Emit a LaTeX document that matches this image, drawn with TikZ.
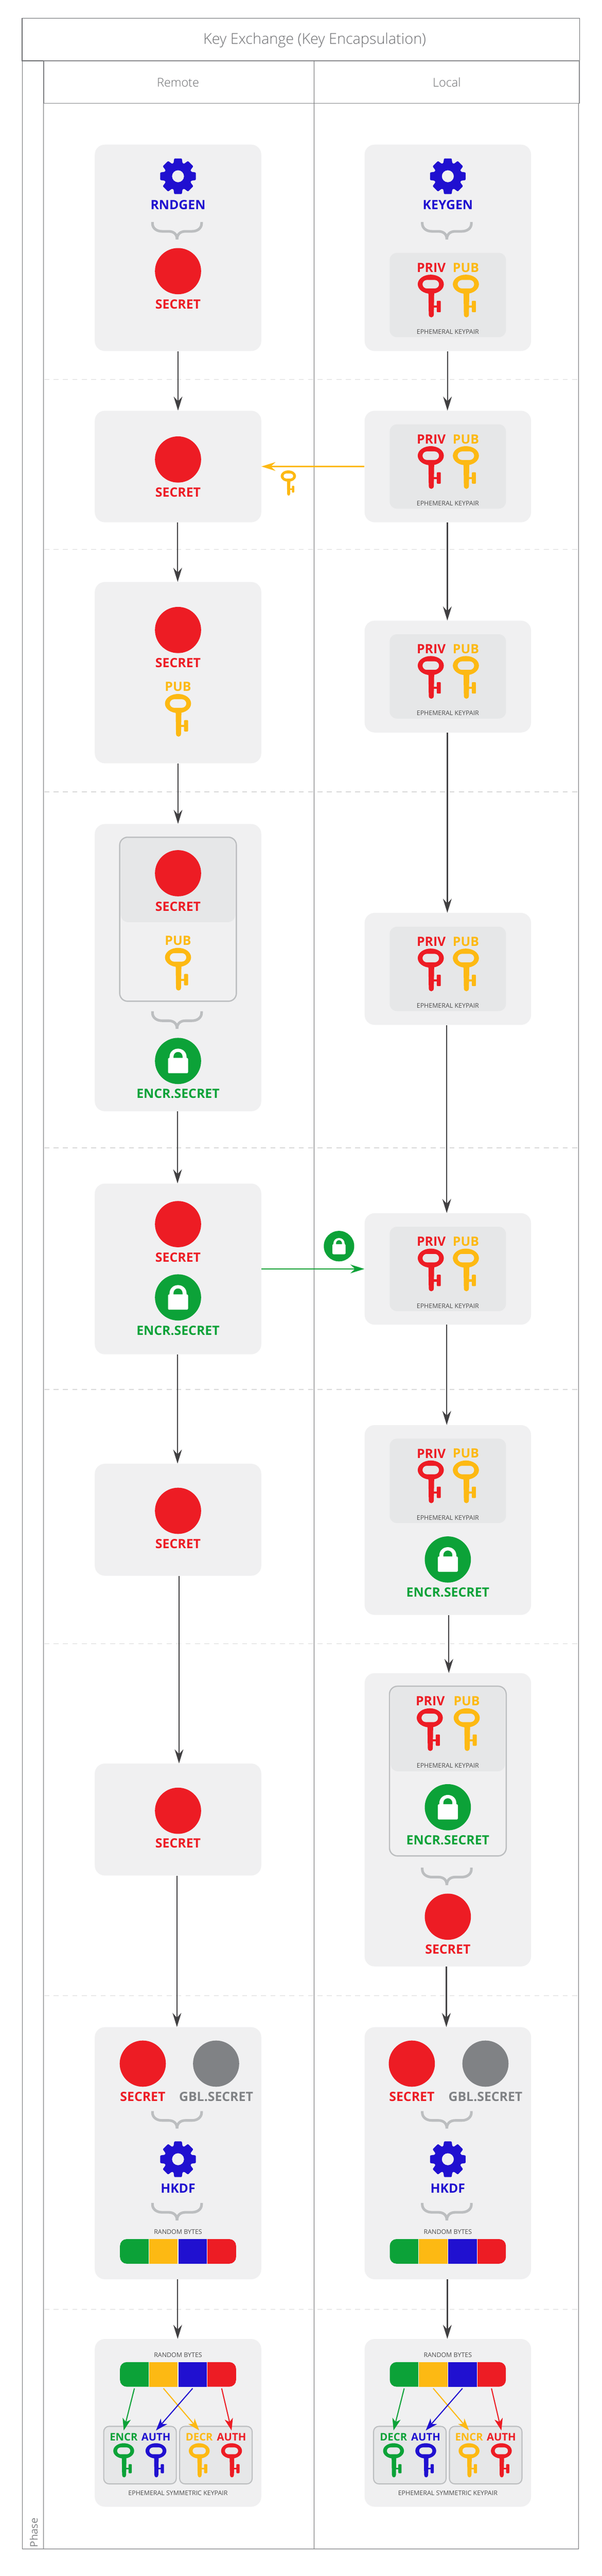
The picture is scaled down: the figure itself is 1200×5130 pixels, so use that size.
\documentclass[tikz,border=0pt]{standalone}
\usepackage{fontspec}
\setmainfont{Open Sans}
\newfontfamily\oslight{Open Sans}[UprightFont={* Light}]
\usetikzlibrary{arrows.meta}
\definecolor{kred}{HTML}{ED1C24}
\definecolor{kyel}{HTML}{FDB913}
\definecolor{kblu}{HTML}{2010D0}
\definecolor{kgrn}{HTML}{0CA238}
\definecolor{kgry}{HTML}{808285}
\definecolor{boxg}{HTML}{F0F0F1}
\definecolor{inng}{HTML}{E6E7E8}
\definecolor{brcg}{HTML}{BCBEC0}
\definecolor{lane}{HTML}{6D6E71}
\definecolor{dashg}{HTML}{D9D9D9}
\definecolor{flowk}{HTML}{414042}
\definecolor{capk}{HTML}{4D4D4D}
\tikzset{
  pbox/.style={rectangle,rounded corners=15pt,fill=boxg,inner sep=0,minimum width=249pt},
  gbox/.style={rectangle,rounded corners=11pt,fill=inng,inner sep=0,minimum width=174pt},
  obox/.style={rectangle,rounded corners=12pt,draw=brcg,line width=1.9pt,inner sep=0,minimum width=174.5pt},
  sbox/.style={rectangle,rounded corners=8pt,draw=brcg,fill=inng,line width=1.6pt,inner sep=0},
  lbl/.style={inner sep=0,font=\fontsize{19.1}{20}\selectfont\bfseries},
  slbl/.style={inner sep=0,font=\fontsize{15.6}{17}\selectfont\bfseries},
  capt/.style={inner sep=0,text=capk,font=\fontsize{9.55}{11}\selectfont},
  headt/.style={inner sep=0,text=lane,font=\fontsize{18}{20}\oslight},
  ttl/.style={inner sep=0,text=lane,font=\fontsize{22.15}{24}\oslight},
  dotc/.style={circle,inner sep=0,minimum size=69pt},
  seg/.style={rectangle,inner sep=0,minimum width=43.5pt,minimum height=36.75pt},
  flow/.style={draw=flowk,line width=1.7pt,-{Stealth[length=21pt,width=13pt,inset=7pt]}},
  xflow/.style={line width=2pt,-{Stealth[length=21pt,width=13pt,inset=7pt]}},
  sflow/.style={line width=1.6pt,-{Stealth[length=18pt,width=12.5pt,inset=5pt]}},
  laneline/.style={draw=lane,line width=0.8pt},
  phaseline/.style={draw=dashg,line width=1pt,dash pattern=on 7.5pt off 6.6pt},
  bracel/.style={draw=brcg,line width=3.9pt},
}
\newcommand{\bx}[4]{\pgfmathsetmacro\tmpc{(#3+#4)/2}\pgfmathsetmacro\tmph{(#4-#3)*0.75}%
  \node[pbox,minimum height=\tmph pt] (#1) at (#2,\tmpc) {};}
\newcommand{\drawKey}[4]{% x y scale colour
  \begin{scope}[shift={(#1,#2)},scale=#3]
    \fill[#4,even odd rule] (0,0) ellipse [x radius=26,y radius=19]
      (-8,-8.5) -- (8,-8.5) .. controls (12.7,-8.5) and (16.5,-4.7) .. (16.5,0) .. controls (16.5,4.7) and (12.7,8.5) .. (8,8.5) -- (-8,8.5) .. controls (-12.7,8.5) and (-16.5,4.7) .. (-16.5,0) .. controls (-16.5,-4.7) and (-12.7,-8.5) .. (-8,-8.5) -- cycle;
    \fill[#4] (-4.7,15) -- (-4,60) .. controls (-4,68) and (6,68) .. (6,60) -- (6.8,15) -- cycle;
    \fill[#4] (5,42.3) rectangle (13,46.7);
    \fill[#4,rounded corners=0.9pt] (12,33) rectangle (20,55.7);
  \end{scope}}
\newcommand{\drawGear}[2]{%
  \begin{scope}[shift={(#1,#2)}]
    \fill[kblu,even odd rule,rounded corners=1pt] ({-19}:27.5)
      \foreach \a in {0,45,90,135,180,225,270,315} { -- ({\a-19}:27.5) -- ({\a-12}:36.3) -- ({\a+12}:36.3) -- ({\a+19}:27.5) } -- cycle
      (0,0) circle [radius=12];
  \end{scope}}
\newcommand{\drawBrace}[2]{%
  \begin{scope}[shift={(#1,#2)}]
    \draw[bracel] (-49,0) -- (-49,3) .. controls (-49,13) and (-40,18.7) .. (-30,18.7) -- (-17,18.7) .. controls (-7,18.7) and (0,24) .. (0,34.7);
    \draw[bracel] (49,0) -- (49,3) .. controls (49,13) and (40,18.7) .. (30,18.7) -- (17,18.7) .. controls (7,18.7) and (0,24) .. (0,34.7);
  \end{scope}}
\newcommand{\drawLock}[4]{% name x y scale
  \pgfmathsetmacro\tmps{69*#4}%
  \node[circle,inner sep=0,fill=kgrn,minimum size=\tmps pt] (#1) at (#2,#3) {};
  \begin{scope}[shift={(#2,#3)},scale=#4]
    \fill[white,rounded corners=1.8pt] (-20,-6) rectangle (20,24.5);
    \fill[white] (-17,-4) -- (-17,-8) .. controls (-17,-18) and (-9,-24.5) .. (0,-24.5) .. controls (9,-24.5) and (17,-18) .. (17,-8) -- (17,-4) -- (9,-4) -- (9,-9) .. controls (9,-14) and (5,-18) .. (0,-18) .. controls (-5,-18) and (-9,-14) .. (-9,-9) -- (-9,-4) -- cycle;
  \end{scope}}
\newcommand{\secret}[4]{% name x ycircle ylabel
  \node[dotc,fill=kred] (#1c) at (#2,#3) {};
  \node[lbl,text=kred] (#1t) at (#2,#4) {SECRET};}
\newcommand{\encsec}[4]{%
  \drawLock{#1c}{#2}{#3}{1}
  \node[lbl,text=kgrn] (#1t) at (#2,#4) {ENCR.SECRET};}
\newcommand{\pubkey}[4]{% name x ylabel ykey
  \node[lbl,text=kyel] (#1t) at (#2,#3) {PUB};
  \drawKey{#2}{#4}{1}{kyel}}
\newcommand{\keypair}[3]{% name cx top
  \pgfmathsetmacro\tmpy{#3+84}\pgfmathsetmacro\tmpa{#3+29.5}\pgfmathsetmacro\tmpb{#3+62.5}\pgfmathsetmacro\tmpd{#3+157.5}%
  \pgfmathsetmacro\tmpl{#2-33}\pgfmathsetmacro\tmpr{#2+36}\pgfmathsetmacro\tmpk{#2-34}%
  \node[gbox,minimum height=126pt] (#1g) at (#2,\tmpy) {};
  \node[lbl,text=kred] (#1p) at (\tmpl,\tmpa) {PRIV};
  \node[lbl,text=kyel] (#1q) at (\tmpr,\tmpa) {PUB};
  \drawKey{\tmpk}{\tmpb}{1}{kred}
  \drawKey{\tmpr}{\tmpb}{1}{kyel}
  \node[capt] (#1e) at (#2,\tmpd) {EPHEMERAL KEYPAIR};}
\newcommand{\bytesbar}[3]{% name cx top
  \pgfmathsetmacro\xa{#2-115.7}\pgfmathsetmacro\xb{#2-58.3}\pgfmathsetmacro\xc{#2+58.3}\pgfmathsetmacro\xd{#2+115.7}%
  \pgfmathsetmacro\yb{#3+49}\pgfmathsetmacro\ym{#3+24.5}\pgfmathsetmacro\yl{#3-14}%
  \pgfmathsetmacro\sa{#2-87}\pgfmathsetmacro\sb{#2-29.15}\pgfmathsetmacro\sc{#2+29.15}\pgfmathsetmacro\sd{#2+87}%
  \node[capt] (#1l) at (#2,\yl) {RANDOM BYTES};
  \fill[kgrn] (\xb,#3) [rounded corners=10pt] -- (\xa,#3) -- (\xa,\yb) [sharp corners] -- (\xb,\yb) -- cycle;
  \fill[kred] (\xc,#3) [rounded corners=10pt] -- (\xd,#3) -- (\xd,\yb) [sharp corners] -- (\xc,\yb) -- cycle;
  \fill[kyel] (\xb,#3) rectangle (#2,\yb);
  \fill[kblu] (#2,#3) rectangle (\xc,\yb);
  \draw[white,line width=0.8pt] (\xb,#3) -- (\xb,\yb) (#2,#3) -- (#2,\yb) (\xc,#3) -- (\xc,\yb);
  \node[seg] (#1a) at (\sa,\ym) {};
  \node[seg] (#1b) at (\sb,\ym) {};
  \node[seg] (#1d) at (\sc,\ym) {};
  \node[seg] (#1e) at (\sd,\ym) {};}
\newcommand{\hkdfbox}[4]{% name cx xsecret xgbl
  \bx{#1}{#2}{4037}{4539}
  \node[dotc,fill=kred] (#1c) at (#3,4109.6) {};
  \node[dotc,fill=kgry] (#1d) at (#4,4109.6) {};
  \node[lbl,text=kred] (#1t) at (#3,4175) {SECRET};
  \node[lbl,text=kgry] (#1u) at (#4,4175) {GBL.SECRET};
  \pgfmathsetmacro\tmpb{#2-2}%
  \drawBrace{\tmpb}{4204}
  \drawGear{#2}{4300}
  \node[lbl,text=kblu] (#1h) at (#2,4357.6) {HKDF};
  \drawBrace{\tmpb}{4387}
  \bytesbar{#1b}{#2}{4459}}
\newcommand{\symbox}[4]{% name cx first-label third-label
  \bx{#1}{#2}{4658}{4992}
  \bytesbar{#1b}{#2}{4704}
  \pgfmathsetmacro\xa{#2-108.3}\pgfmathsetmacro\xb{#2-44}\pgfmathsetmacro\xc{#2+42.3}\pgfmathsetmacro\xd{#2+106.7}%
  \pgfmathsetmacro\ga{#2-75.8}\pgfmathsetmacro\gb{#2+75.5}%
  \node[sbox,minimum width=108.5pt,minimum height=86pt] (#1l) at (\ga,4889.2) {};
  \node[sbox,minimum width=108.5pt,minimum height=86pt] (#1r) at (\gb,4889.2) {};
  \node[slbl,text=kgrn] (#1w) at (\xa,4853) {#3};
  \node[slbl,text=kblu] (#1x) at (\xb,4853) {AUTH};
  \node[slbl,text=kyel] (#1y) at (\xc,4853) {#4};
  \node[slbl,text=kred] (#1z) at (\xd,4853) {AUTH};
  \drawKey{\xa}{4880.7}{0.8}{kgrn}
  \drawKey{\xb}{4880.7}{0.8}{kblu}
  \drawKey{\xc}{4880.7}{0.8}{kyel}
  \drawKey{\xd}{4880.7}{0.8}{kred}
  \node[capt] (#1e) at (#2,4965) {EPHEMERAL SYMMETRIC KEYPAIR};
  \draw[sflow,draw=kgrn,kgrn] ([yshift=-2.25pt]#1ba.south) -- ([yshift=3.75pt]#1w.north);
  \draw[sflow,draw=kyel,kyel] ([yshift=-2.25pt]#1bb.south) -- ([yshift=3.75pt]#1y.north);
  \draw[sflow,draw=kblu,kblu] ([yshift=-2.25pt]#1bd.south) -- ([yshift=3.75pt]#1x.north);
  \draw[sflow,draw=kred,kred] ([yshift=-2.25pt]#1be.south) -- ([yshift=3.75pt]#1z.north);}
\newcommand{\conn}[3]{\draw[flow] ([xshift=#3*0.75pt]#1.south) -- ([xshift=#3*0.75pt]#2.north);}
\begin{document}
\begin{tikzpicture}[x=0.75pt,y=-0.75pt]
\useasboundingbox (0,0) rectangle (1200,5130);
\fill[white] (0,0) rectangle (1200,5130);
% swimlane frame
\node[rectangle,inner sep=0,minimum width=833.7pt,minimum height=63.3pt,draw=lane,line width=1.1pt] (titlebar) at (600,78.8) {};
\node[ttl] (title) at (627.5,80.5) {Key Exchange (Key Encapsulation)};
\node[rectangle,inner sep=0,minimum width=801pt,minimum height=63.7pt,draw=lane!80,line width=1.1pt] (headbar) at (621.2,163.5) {};
\node[headt] (remote) at (355,164) {Remote};
\node[headt] (local) at (891,164) {Local};
\draw[laneline] (44.4,121) -- (44.4,5076) -- (1154,5076) -- (1154,206);
\draw[laneline] (87,121) -- (87,5076);
\draw[laneline] (626,121) -- (626,5076);
\node[inner sep=0,rotate=90,anchor=center,text=kgry,font=\fontsize{15.5}{17}\selectfont] (phase) at (67.3,5043.5) {Phase};
% phase separators
\foreach \yy in {755.6,1094.5,1577,2286,2767,3273.5,3974,4599} {\draw[phaseline] (88,\yy) -- (1153,\yy);}
% boxes left
\bx{La}{355}{288}{699}
\drawGear{355}{351}
\node[lbl,text=kblu] (Lag) at (355,408) {RNDGEN};
\drawBrace{353}{442}
\secret{Las}{355}{540}{606}
\bx{Lb}{355}{818}{1040}
\secret{Lbs}{355}{915}{980}
\bx{Lc}{355}{1159}{1520}
\secret{Lcs}{355}{1254.6}{1320.4}
\pubkey{Lcp}{355}{1367.9}{1401}
\bx{Ld}{355}{1641}{2213}
\node[gbox,minimum width=171pt,minimum height=126pt] (Ldg) at (355,1752.5) {};
\node[obox,minimum height=245pt,] (Ldo) at (355,1830.6) {};
\secret{Lds}{355}{1739}{1805}
\pubkey{Ldp}{355}{1873.5}{1906.6}
\drawBrace{353}{2014}
\encsec{Lde}{355}{2112.8}{2178}
\bx{Le}{355}{2357}{2697}
\secret{Les}{355}{2437.8}{2503.6}
\encsec{Lee}{355}{2583.7}{2649.5}
\bx{Lf}{355}{2915}{3138}
\secret{Lfs}{355}{3008.7}{3074}
\bx{Lg}{355}{3512}{3735}
\secret{Lgs}{355}{3606}{3671}
\hkdfbox{Lh}{355}{284.7}{430.9}
\symbox{Li}{355}{ENCR}{DECR}
% boxes right
\bx{Ra}{893}{288}{699}
\drawGear{893}{351}
\node[lbl,text=kblu] (Rag) at (893,408) {KEYGEN};
\drawBrace{891}{442}
\keypair{Rak}{893}{503.5}
\bx{Rb}{893}{818}{1040}
\keypair{Rbk}{893}{845}
\bx{Rc}{893}{1236}{1458.7}
\keypair{Rck}{893}{1263}
\bx{Rd}{893}{1818}{2041}
\keypair{Rdk}{893}{1845.5}
\bx{Re}{893}{2416}{2638}
\keypair{Rek}{893}{2443}
\bx{Rf}{893}{2838}{3216}
\keypair{Rfk}{893}{2865}
\encsec{Rfe}{893}{3105.6}{3171}
\bx{Rg}{893}{3332}{3916}
\node[gbox,minimum width=171pt,minimum height=126pt] (Rgg) at (893,3443.5) {};
\node[obox,minimum height=253.5pt] (Rgo) at (893,3527) {};
\node[lbl,text=kred] (Rgp) at (858,3387.8) {PRIV};
\node[lbl,text=kyel] (Rgq) at (930.6,3387.8) {PUB};
\drawKey{857}{3421}{1}{kred}
\drawKey{930.6}{3421}{1}{kyel}
\node[capt] (Rge) at (893,3515.8) {EPHEMERAL KEYPAIR};
\encsec{Rgl}{893}{3599}{3664}
\drawBrace{891}{3719.4}
\secret{Rgs}{893}{3817}{3882}
\hkdfbox{Rh}{893}{821.2}{968}
\symbox{Ri}{893}{DECR}{ENCR}
% payload icons
\drawKey{575}{948}{0.59}{kyel}
\drawLock{lockmsg}{676}{2481.6}{0.66}
% connectors
\conn{La}{Lb}{0}
\conn{Lb}{Lc}{-0.7}
\conn{Lc}{Ld}{0}
\conn{Ld}{Le}{-1}
\conn{Le}{Lf}{-1}
\conn{Lf}{Lg}{2}
\conn{Lg}{Lh}{-2.2}
\conn{Lh}{Li}{-0.7}
\conn{Ra}{Rb}{-0.7}
\conn{Rb}{Rc}{-1}
\conn{Rc}{Rd}{-1}
\conn{Rd}{Re}{-2.2}
\conn{Re}{Rf}{-2.2}
\conn{Rf}{Rg}{2}
\conn{Rg}{Rh}{-3}
\conn{Rh}{Ri}{-1}
\draw[xflow,draw=kyel,kyel] (Rb.west) -- (Lb.east);
\draw[xflow,draw=kgrn,kgrn] (Le.east) -- (Re.west);
\end{tikzpicture}
\end{document}
